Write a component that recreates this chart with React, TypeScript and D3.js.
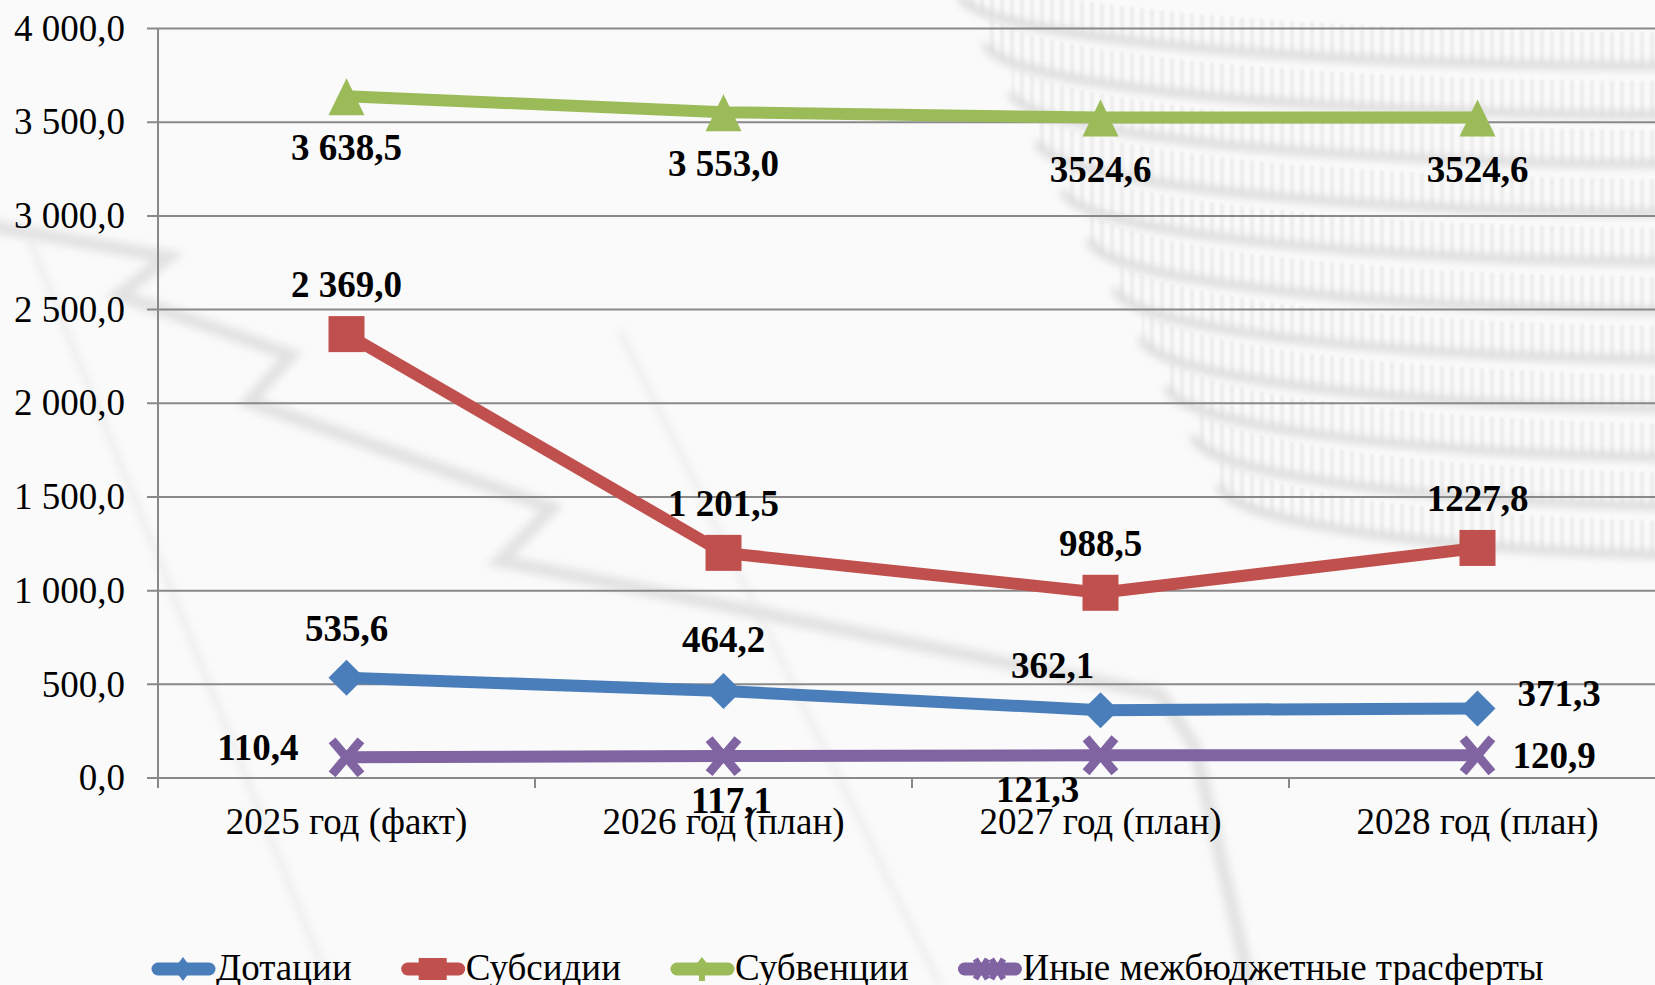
import React, { useEffect, useRef } from 'react'
import * as d3 from 'd3'

const WIDTH = 1655
const HEIGHT = 985

const categories = ['2025 год (факт)', '2026 год (план)', '2027 год (план)', '2028 год (план)']
const yTicks = [0, 500, 1000, 1500, 2000, 2500, 3000, 3500, 4000]

const dotacii = [535.6, 464.2, 362.1, 371.3]
const subsidii = [2369.0, 1201.5, 988.5, 1227.8]
const subvencii = [3638.5, 3553.0, 3524.6, 3524.6]
const inye = [110.4, 117.1, 121.3, 120.9]

const dotaciiLabels = ['535,6', '464,2', '362,1', '371,3']
const subsidiiLabels = ['2 369,0', '1 201,5', '988,5', '1227,8']
const subvenciiLabels = ['3 638,5', '3 553,0', '3524,6', '3524,6']
const inyeLabels = ['110,4', '117,1', '121,3', '120,9']

const FONT = "'Liberation Serif', 'Times New Roman', serif"
const FS = 37

// label offsets from the point: [dx, baseline dy, anchor]
type Place = [number, number, string]
const SERIES: { name: string; values: number[]; labels: string[]; color: string; marker: string; place: Place[] }[] = [
  {
    name: 'Дотации', values: dotacii, labels: dotaciiLabels, color: '#4a7ebb', marker: 'diamond',
    place: [[0, -37, 'middle'], [0, -39, 'middle'], [-48, -32, 'middle'], [40, -2, 'start']],
  },
  {
    name: 'Субсидии', values: subsidii, labels: subsidiiLabels, color: '#c0504d', marker: 'square',
    place: [[0, -37, 'middle'], [0, -37, 'middle'], [0, -37, 'middle'], [0, -37, 'middle']],
  },
  {
    name: 'Субвенции', values: subvencii, labels: subvenciiLabels, color: '#9bbb59', marker: 'triangle',
    place: [[0, 64, 'middle'], [0, 64, 'middle'], [0, 64, 'middle'], [0, 64, 'middle']],
  },
  {
    name: 'Иные межбюджетные трасферты', values: inye, labels: inyeLabels, color: '#8064a2', marker: 'x',
    place: [[-48, 3, 'end'], [8, 57, 'middle'], [-63, 47, 'middle'], [35, 13, 'start']],
  },
]

const fmt = d3.formatLocale({ decimal: ',', thousands: '\u00a0', grouping: [3], currency: ['', ''] }).format(',.1f')

function drawMarker(g: any, kind: string, x: number, y: number, color: string, s: number) {
  const h = s / 2
  if (kind === 'diamond') {
    g.append('path').attr('d', `M${x},${y - h}L${x + h},${y}L${x},${y + h}L${x - h},${y}Z`).attr('fill', color)
  } else if (kind === 'square') {
    g.append('rect').attr('x', x - h).attr('y', y - h).attr('width', s).attr('height', s).attr('fill', color)
  } else if (kind === 'triangle') {
    g.append('path').attr('d', `M${x},${y - h}L${x + h},${y + h + 1}L${x - h},${y + h + 1}Z`).attr('fill', color)
  } else {
    const a = h * 0.8
    g.append('path')
      .attr('d', `M${x - a},${y - h + 1}L${x + a},${y + h - 1}M${x + a},${y - h + 1}L${x - a},${y + h - 1}`)
      .attr('stroke', color).attr('stroke-width', s / 4).attr('fill', 'none')
  }
}

function drawBackground(svg: any) {
  const defs = svg.append('defs')
  defs.append('filter').attr('id', 'soft').attr('x', '-20%').attr('y', '-20%').attr('width', '140%').attr('height', '140%')
    .append('feGaussianBlur').attr('stdDeviation', 4)
  defs.append('filter').attr('id', 'fine')
    .append('feGaussianBlur').attr('stdDeviation', 1.2)
  const pat = defs.append('pattern').attr('id', 'ridges').attr('patternUnits', 'userSpaceOnUse')
    .attr('width', 10).attr('height', 12)
  pat.append('rect').attr('x', 0).attr('y', 0).attr('width', 4).attr('height', 12).attr('fill', '#e2e2e2')

  svg.append('rect').attr('width', WIDTH).attr('height', HEIGHT).attr('fill', '#fafafa')

  const bg = svg.append('g')
  // coin stack, top right
  for (let i = 0; i < 11; i++) {
    const cy = -40 + i * 49
    const cx = 1660 + i * 10
    const rx = 700 - i * 16
    const ry = 72
    const h = 34
    bg.append('path')
      .attr('d', `M${cx - rx},${cy}A${rx},${ry} 0 0 0 ${cx + rx},${cy}L${cx + rx},${cy + h}A${rx},${ry} 0 0 1 ${cx - rx},${cy + h}Z`)
      .attr('fill', 'url(#ridges)').attr('opacity', 0.55).attr('filter', 'url(#fine)')
    bg.append('path')
      .attr('d', `M${cx - rx},${cy + h}A${rx},${ry} 0 0 0 ${cx + rx},${cy + h}`)
      .attr('fill', 'none').attr('stroke', '#d9d9d9').attr('stroke-width', 8).attr('filter', 'url(#soft)')
  }
  // zigzag market line, left
  const zig: [number, number][] = [[-10, 226], [168, 257], [119, 295], [291, 355], [249, 402], [552, 508], [500, 561], [702, 601], [1160, 694], [1195, 747], [1250, 985]]
  bg.append('path').attr('d', d3.line()(zig)).attr('fill', 'none').attr('stroke', '#dcdcdc')
    .attr('stroke-width', 13).attr('filter', 'url(#soft)').attr('opacity', 0.8)
  bg.append('path').attr('d', 'M30,240L330,985').attr('stroke', '#e4e4e4').attr('stroke-width', 4).attr('filter', 'url(#soft)')
  bg.append('path').attr('d', 'M620,330L940,985').attr('stroke', '#e6e6e6').attr('stroke-width', 4).attr('filter', 'url(#soft)')
}

export default function App() {
  const ref = useRef<SVGSVGElement>(null)

  useEffect(() => {
    const svg = d3.select(ref.current)
    svg.selectAll('*').remove()
    drawBackground(svg)

    const left = 158
    const x = d3.scaleBand().domain(categories).range([left, 1666]).paddingInner(0).paddingOuter(0)
    const y = d3.scaleLinear().domain([0, 4000]).range([778, 28.5])
    const cx = (i: number) => (x(categories[i]) as number) + x.bandwidth() / 2

    // grid
    const grid = svg.append('g')
    yTicks.forEach((t) => {
      grid.append('line').attr('x1', left - 11).attr('x2', WIDTH).attr('y1', y(t)).attr('y2', y(t))
        .attr('stroke', '#898989').attr('stroke-width', 2)
      grid.append('text').attr('x', 125).attr('y', y(t)).attr('dy', '0.33em').attr('text-anchor', 'end')
        .attr('font-family', FONT).attr('font-size', FS).attr('fill', '#000').text(fmt(t))
    })
    grid.append('line').attr('x1', left).attr('x2', left).attr('y1', y(4000)).attr('y2', y(0) + 10)
      .attr('stroke', '#898989').attr('stroke-width', 2)
    categories.forEach((c, i) => {
      const bx = (x(c) as number) + x.bandwidth()
      grid.append('line').attr('x1', bx).attr('x2', bx).attr('y1', y(0)).attr('y2', y(0) + 10)
        .attr('stroke', '#898989').attr('stroke-width', 2)
      grid.append('text').attr('x', cx(i)).attr('y', 834).attr('text-anchor', 'middle')
        .attr('font-family', FONT).attr('font-size', FS).attr('fill', '#000').text(c)
    })

    // series
    const plot = svg.append('g')
    SERIES.forEach((s) => {
      const line = d3.line<number>().x((_, i) => cx(i)).y((d) => y(d))
      plot.append('path').attr('d', line(s.values)).attr('fill', 'none').attr('stroke', s.color)
        .attr('stroke-width', 12).attr('stroke-linejoin', 'round')
      s.values.forEach((v, i) => drawMarker(plot, s.marker, cx(i), y(v), s.color, 36))
    })
    const labels = svg.append('g')
    SERIES.forEach((s) => {
      s.values.forEach((v, i) => {
        const [dx, dy, anchor] = s.place[i]
        labels.append('text').attr('x', cx(i) + dx).attr('y', y(v) + dy).attr('text-anchor', anchor)
          .attr('font-family', FONT).attr('font-size', FS).attr('font-weight', 'bold').attr('fill', '#000')
          .text(s.labels[i])
      })
    })

    // legend
    const legend = svg.append('g')
    let lx = 152
    const ly = 969
    SERIES.forEach((s) => {
      legend.append('line').attr('x1', lx + 6).attr('x2', lx + 57).attr('y1', ly).attr('y2', ly)
        .attr('stroke', s.color).attr('stroke-width', 13).attr('stroke-linecap', 'round')
      const mx = lx + 31
      if (s.marker === 'diamond') {
        legend.append('path').attr('d', `M${mx},${ly - 12}L${mx + 9},${ly}L${mx},${ly + 12}L${mx - 9},${ly}Z`).attr('fill', s.color)
      } else if (s.marker === 'square') {
        legend.append('rect').attr('x', mx - 14).attr('y', ly - 11).attr('width', 28).attr('height', 22).attr('fill', s.color)
      } else if (s.marker === 'triangle') {
        legend.append('path').attr('d', `M${mx},${ly - 12}L${mx + 11},${ly + 2}L${mx - 11},${ly + 2}Z`).attr('fill', s.color)
        legend.append('rect').attr('x', mx - 3).attr('y', ly).attr('width', 6).attr('height', 12).attr('fill', s.color)
      } else {
        ;[-8, 8].forEach((o) => {
          legend.append('path')
            .attr('d', `M${mx + o - 6},${ly - 10}L${mx + o + 6},${ly + 10}M${mx + o + 6},${ly - 10}L${mx + o - 6},${ly + 10}`)
            .attr('stroke', s.color).attr('stroke-width', 6)
        })
      }
      const t = legend.append('text').attr('x', lx + 64).attr('y', 980)
        .attr('font-family', FONT).attr('font-size', FS).attr('fill', '#000').text(s.name)
      const w = (t.node() as SVGTextElement).getComputedTextLength()
      lx = lx + 64 + w + 50
    })
  }, [])

  return (
    <div style={{ position: 'absolute', left: 0, top: 0, width: WIDTH, height: HEIGHT, overflow: 'hidden' }}>
      <svg ref={ref} width={WIDTH} height={HEIGHT} style={{ display: 'block' }} />
    </div>
  )
}
